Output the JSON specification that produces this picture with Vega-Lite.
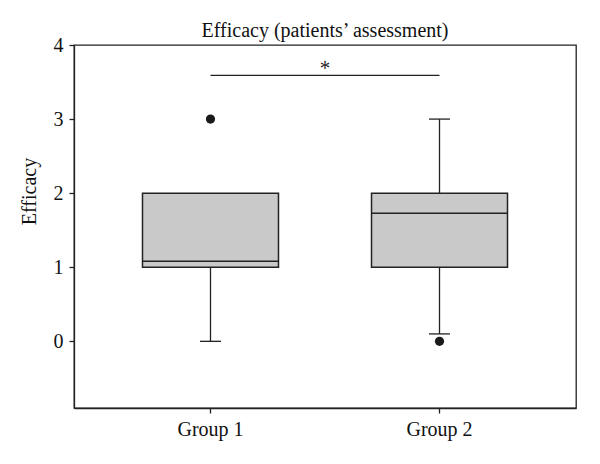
{
  "$schema": "https://vega.github.io/schema/vega-lite/v6.json",
  "width": 502,
  "height": 363,
  "autosize": "none",
  "padding": {"left": 74, "top": 45, "right": 24, "bottom": 56},
  "background": "white",
  "title": {
    "text": "Efficacy (patients’ assessment)",
    "font": "Liberation Serif",
    "fontSize": 20,
    "fontWeight": "normal",
    "color": "#111",
    "anchor": "middle",
    "baseline": "alphabetic",
    "offset": -22
  },
  "config": {
    "view": {"stroke": "#222", "strokeWidth": 1.3},
    "axis": {
      "labelFont": "Liberation Serif",
      "titleFont": "Liberation Serif",
      "labelFontSize": 20,
      "titleFontSize": 20,
      "titleFontWeight": "normal",
      "labelColor": "#111",
      "titleColor": "#111",
      "domainColor": "#222",
      "tickColor": "#222",
      "domainWidth": 1.3,
      "tickWidth": 1.3,
      "tickSize": 5,
      "grid": false
    }
  },
  "datasets": {
    "boxes": [
      {"group": "Group 1", "lower": 0, "q1": 1, "median": 1.08, "q3": 2, "upper": 2},
      {"group": "Group 2", "lower": 0.1, "q1": 1, "median": 1.73, "q3": 2, "upper": 3}
    ],
    "outliers": [
      {"group": "Group 1", "value": 3},
      {"group": "Group 2", "value": 0}
    ],
    "signif": [
      {"from": "Group 1", "to": "Group 2", "level": 3.59, "label": "*"}
    ]
  },
  "encoding": {
    "x": {
      "field": "group",
      "type": "nominal",
      "scale": {"type": "band", "domain": ["Group 1", "Group 2"], "paddingInner": 0, "paddingOuter": 0.096},
      "axis": {"title": null, "labelAngle": 0, "labelPadding": 6}
    }
  },
  "layer": [
    {
      "data": {"name": "boxes"},
      "mark": {"type": "rule", "color": "#222", "strokeWidth": 1.3},
      "encoding": {
        "y": {
          "field": "lower",
          "type": "quantitative",
          "scale": {"domain": [-0.9, 4], "nice": false, "zero": false},
          "axis": {"title": "Efficacy", "values": [0, 1, 2, 3, 4], "format": "d", "labelPadding": 6, "titleX": -35, "titleY": 146}
        },
        "y2": {"field": "upper"}
      }
    },
    {
      "data": {"name": "boxes"},
      "mark": {"type": "bar", "size": 136, "fill": "#c9c9c9", "stroke": "#222", "strokeWidth": 1.5},
      "encoding": {
        "y": {"field": "q1", "type": "quantitative"},
        "y2": {"field": "q3"}
      }
    },
    {
      "data": {"name": "boxes"},
      "mark": {"type": "tick", "size": 136, "color": "#222", "thickness": 1.5, "opacity": 1},
      "encoding": {"y": {"field": "median", "type": "quantitative"}}
    },
    {
      "data": {"name": "boxes"},
      "mark": {"type": "tick", "size": 21, "color": "#222", "thickness": 1.3, "opacity": 1},
      "encoding": {"y": {"field": "lower", "type": "quantitative"}}
    },
    {
      "data": {"name": "boxes"},
      "transform": [{"filter": "datum.upper > datum.q3"}],
      "mark": {"type": "tick", "size": 21, "color": "#222", "thickness": 1.3, "opacity": 1},
      "encoding": {"y": {"field": "upper", "type": "quantitative"}}
    },
    {
      "data": {"name": "outliers"},
      "mark": {"type": "circle", "size": 85, "color": "#1a1a1a", "opacity": 1},
      "encoding": {"y": {"field": "value", "type": "quantitative"}}
    },
    {
      "data": {"name": "signif"},
      "mark": {"type": "rule", "color": "#222", "strokeWidth": 1.3},
      "encoding": {
        "x": {"field": "from", "type": "nominal"},
        "x2": {"field": "to"},
        "y": {"field": "level", "type": "quantitative"}
      }
    },
    {
      "data": {"name": "signif"},
      "mark": {"type": "text", "font": "Liberation Serif", "fontSize": 21, "color": "#222", "baseline": "alphabetic", "align": "center"},
      "encoding": {
        "x": {"field": "from", "type": "nominal", "bandPosition": 1},
        "y": {"field": "level", "type": "quantitative"},
        "text": {"field": "label"}
      }
    }
  ]
}
